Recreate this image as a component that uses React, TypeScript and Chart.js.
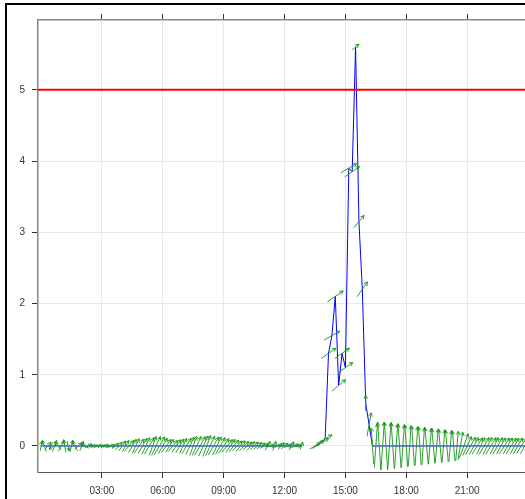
import React, { useEffect, useRef } from 'react';
import { Chart, registerables } from 'chart.js';

Chart.register(...registerables);

// 10-minute observations, 00:00 .. 23:50
const STEP_HOURS = 1 / 6;

// concentration (blue line)
const CONC: (number | null)[] = [
  0, 0, 0, 0, 0, 0, // 00
  0, 0, 0, 0, 0, 0, // 01
  0, 0, 0, 0, 0, 0, // 02
  0, 0, 0, 0, 0, 0, // 03
  0, 0, 0, 0, 0, 0, // 04
  0, 0, 0, 0, 0, 0, // 05
  0, 0, 0, 0, 0, 0, // 06
  0, 0, 0, 0, 0, 0, // 07
  0, 0, 0, 0, 0, 0, // 08
  0, 0, 0, 0, 0, 0, // 09
  0, 0, 0, 0, 0, 0, // 10
  0, 0, 0, 0, 0, 0, // 11
  0, 0, 0, 0, 0, 0, // 12
  null, null, null, 0, 0.02, 0.05, // 13
  0.1, 1.3, 1.55, 2.1, 0.85, 1.3, // 14
  1.1, 3.9, 3.85, 5.6, 3.15, 2.2, // 15
  0.6, 0.3, 0, 0, 0, 0, // 16
  0, 0, 0, 0, 0, 0, // 17
  0, 0, 0, 0, 0, 0, // 18
  0, 0, 0, 0, 0, 0, // 19
  0, 0, 0, 0, 0, 0, // 20
  0, 0, 0, 0, 0, 0, // 21
  0, 0, 0, 0, 0, 0, // 22
  0, 0, 0, 0, 0, 0, // 23
];

// wind speed (m/s)
const WS: number[] = [
  2.5, 3, 2.5, 2, 3, 2.5,
  3, 3.2, 2.5, 3, 2.8, 2.5,
  2.5, 2.2, 2, 1.2, 1, 1,
  1, 1.2, 1, 1.5, 2, 2.5,
  3, 3.2, 3.5, 3.8, 4, 4.2,
  4.4, 4.6, 4.8, 5, 5.2, 5.3,
  4.5, 4, 3.8, 3.6, 3.8, 4,
  4.2, 4.5, 4.8, 5, 5.2, 5.4,
  5.5, 5.6, 5.4, 5.2, 5, 4.8,
  4.5, 4.2, 4, 3.8, 3.5, 3.4,
  3.2, 3, 2.8, 2.8, 2.6, 2.5,
  2.2, 2.5, 2, 2.4, 2, 2.2,
  2.2, 2, 2.4, 2, 1.8, 2,
  2, 2, 2.5, 3, 3.5, 4,
  4, 4.5, 4.5, 4.8, 4.5, 4.5,
  4.5, 4.5, 4.5, 2.2, 4, 4.5,
  4, 6, 9, 11, 12, 12,
  12, 11.8, 11.5, 11.2, 11, 10.8,
  10.5, 10.2, 10, 9.8, 9.6, 9.4,
  9.2, 9, 8.8, 8.6, 8.4, 8.2,
  8, 7.8, 7.6, 7.4, 7, 6.5,
  5.2, 5, 4.8, 4.8, 4.6, 4.8,
  4.8, 4.9, 4.6, 4.8, 4.6, 4.7,
  4.6, 4.7, 4.5, 4.6, 4.5, 4.4,
];

// wind direction (degrees, direction the wind blows from)
const WD: number[] = [
  190, 160, 220, 20, 200, 140,
  210, 170, 350, 195, 150, 230,
  200, 120, 240, 260, 270, 250,
  260, 240, 280, 250, 230, 220,
  215, 210, 220, 210, 205, 215,
  210, 205, 210, 200, 205, 210,
  210, 215, 210, 220, 215, 210,
  205, 210, 205, 200, 205, 210,
  205, 200, 205, 210, 205, 210,
  215, 220, 215, 220, 225, 220,
  225, 230, 220, 225, 230, 235,
  240, 210, 260, 200, 250, 220,
  230, 250, 210, 240, 260, 200,
  240, 20, 220, 240, 235, 240,
  240, 235, 240, 235, 230, 235,
  235, 240, 235, 230, 220, 215,
  180, 190, 176, 184, 176, 184,
  176, 184, 176, 184, 176, 184,
  176, 184, 176, 184, 176, 184,
  175, 185, 175, 185, 175, 185,
  175, 185, 175, 185, 190, 200,
  205, 210, 208, 212, 206, 210,
  208, 212, 206, 210, 208, 212,
  210, 212, 208, 210, 212, 208,
];

const LIMIT = 5;
const X_TICKS = [3, 6, 9, 12, 15, 18, 21];
const Y_TICKS = [0, 1, 2, 3, 4, 5];
const X_MIN = -0.15;
const X_MAX = 23.85;
const Y_MIN = -0.365;
const Y_MAX = 5.98;

const ARROW_PX = 4;
const HEAD = 4;
const HEAD_ANG = (28 * Math.PI) / 180;

const windPlugin = {
  id: 'windArrows',
  afterDatasetsDraw(chart: any) {
    const { ctx, chartArea, scales } = chart;
    const xs = scales.x;
    const ys = scales.y;
    ctx.save();
    ctx.beginPath();
    ctx.rect(chartArea.left, chartArea.top, chartArea.right - chartArea.left, chartArea.bottom - chartArea.top);
    ctx.clip();
    ctx.strokeStyle = 'rgb(20,150,20)';
    ctx.lineWidth = 0.9;
    CONC.forEach((v, i) => {
      if (v === null) return;
      const px = xs.getPixelForValue(i * STEP_HOURS);
      const py = ys.getPixelForValue(v);
      const a = (((WD[i] + 180) % 360) * Math.PI) / 180;
      const len = WS[i] * ARROW_PX;
      const dx = Math.sin(a) * len;
      const dy = -Math.cos(a) * len;
      const x0 = px - dx / 2;
      const y0 = py - dy / 2;
      const x1 = px + dx / 2;
      const y1 = py + dy / 2;
      ctx.beginPath();
      ctx.moveTo(x0, y0);
      ctx.lineTo(x1, y1);
      const ang = Math.atan2(y1 - y0, x1 - x0);
      for (const s of [-1, 1]) {
        ctx.moveTo(x1, y1);
        ctx.lineTo(x1 - HEAD * Math.cos(ang + s * HEAD_ANG), y1 - HEAD * Math.sin(ang + s * HEAD_ANG));
      }
      ctx.stroke();
    });
    ctx.restore();
  },
};

const framePlugin = {
  id: 'outerFrame',
  afterDraw(chart: any) {
    const { ctx, width, height } = chart;
    ctx.save();
    ctx.fillStyle = '#000';
    ctx.fillRect(5, 3, width - 5, 2);
    ctx.fillRect(5, 3, 2, height - 3);
    ctx.restore();
  },
};

const fmtHour = (v: number) => String(v).padStart(2, '0') + ':00';

export default function App() {
  const ref = useRef<HTMLCanvasElement>(null);

  useEffect(() => {
    const canvas = ref.current;
    if (!canvas) return;
    const font = { family: '"Liberation Sans", Arial, sans-serif', size: 10 };
    const chart = new Chart(canvas, {
      type: 'line',
      data: {
        datasets: [
          {
            label: 'limit',
            data: [
              { x: X_MIN, y: LIMIT },
              { x: X_MAX, y: LIMIT },
            ],
            borderColor: '#ff0000',
            borderWidth: 2,
            pointRadius: 0,
            order: 0,
          },
          {
            label: 'conc',
            data: CONC.map((v, i) => ({ x: i * STEP_HOURS, y: v })),
            borderColor: '#0000ff',
            borderWidth: 1,
            pointRadius: 0,
            spanGaps: false,
            tension: 0,
            order: 1,
          },
        ],
      },
      options: {
        animation: false,
        responsive: false,
        layout: { padding: 0 },
        plugins: { legend: { display: false }, tooltip: { enabled: false }, title: { display: false } },
        scales: {
          x: {
            type: 'linear',
            position: 'bottom',
            min: X_MIN,
            max: X_MAX,
            afterBuildTicks: (s: any) => {
              s.ticks = X_TICKS.map((v) => ({ value: v }));
            },
            afterFit: (s: any) => {
              s.height = 27;
            },
            ticks: {
              callback: (v: any) => fmtHour(Number(v)),
              font,
              color: '#333',
              padding: 7,
              maxRotation: 0,
              autoSkip: false,
            },
            grid: { color: '#e8e8e8', tickColor: '#333', tickLength: 6 },
            border: { display: true, color: '#555', width: 1 },
          },
          x2: {
            type: 'linear',
            position: 'top',
            min: X_MIN,
            max: X_MAX,
            afterBuildTicks: (s: any) => {
              s.ticks = X_TICKS.map((v) => ({ value: v }));
            },
            afterFit: (s: any) => {
              s.height = 20;
            },
            ticks: { display: false },
            grid: { drawOnChartArea: false, tickColor: '#333', tickLength: 6 },
            border: { display: true, color: '#888', width: 1.5 },
          },
          y: {
            type: 'linear',
            min: Y_MIN,
            max: Y_MAX,
            afterBuildTicks: (s: any) => {
              s.ticks = Y_TICKS.map((v) => ({ value: v }));
            },
            afterFit: (s: any) => {
              s.width = 38;
            },
            ticks: { font, color: '#333', padding: 7 },
            grid: { color: '#e8e8e8', tickColor: '#333', tickLength: 6 },
            border: { display: true, color: '#888', width: 1.5 },
          },
        },
      },
      plugins: [windPlugin, framePlugin],
    } as any);
    return () => chart.destroy();
  }, []);

  return (
    <div style={{ position: 'absolute', left: 0, top: 0, width: 525, height: 499 }}>
      <canvas ref={ref} width={525} height={499} style={{ display: 'block' }} />
    </div>
  );
}
